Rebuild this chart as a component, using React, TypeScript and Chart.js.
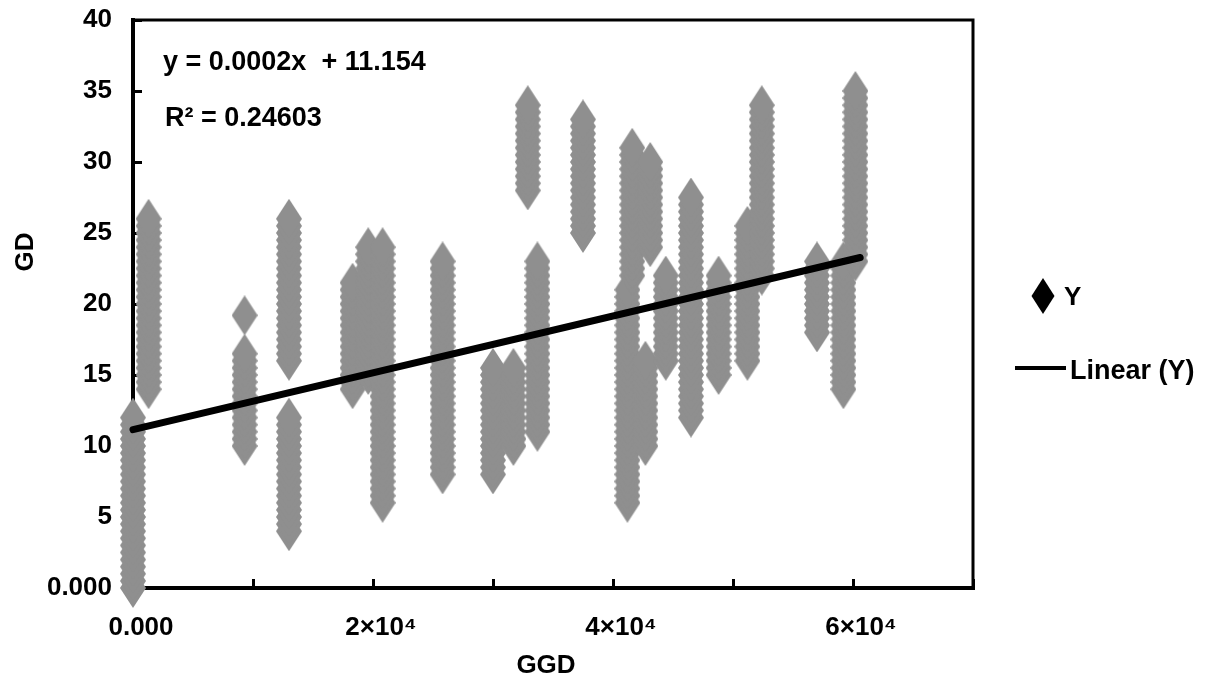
import React, { useEffect, useRef } from 'react';
import { Chart, registerables } from 'chart.js';

Chart.register(...registerables);

// ---- data ----
// GGD value of each vertical stack of points
const ggdColumns = [0, 1300, 9300, 13000, 18300, 19600, 20800, 25800, 30000, 31700, 32900, 33700, 37500, 41200, 41600, 42700, 43100, 44400, 46500, 48800, 51200, 52400, 57000, 59200, 60200];

// GD values in each stack
const gdCol0 = [0, 0.5, 1, 1.5, 2, 2.5, 3, 3.5, 4, 4.5, 5, 5.5, 6, 6.5, 7, 7.5, 8, 8.5, 9, 9.5, 10, 10.5, 11, 11.5, 12];
const gdCol1300 = [14, 14.5, 15, 15.5, 16, 16.5, 17, 17.5, 18, 18.5, 19, 19.5, 20, 20.5, 21, 21.5, 22, 22.5, 23, 23.5, 24, 24.5, 25, 25.5, 26];
const gdCol9300 = [10, 10.5, 11, 11.5, 12, 12.5, 13, 13.5, 14, 14.5, 15, 15.5, 16, 16.5, 19.2];
const gdCol13000 = [4, 4.5, 5, 5.5, 6, 6.5, 7, 7.5, 8, 8.5, 9, 9.5, 10, 10.5, 11, 11.5, 12, 16, 16.5, 17, 17.5, 18, 18.5, 19, 19.5, 20, 20.5, 21, 21.5, 22, 22.5, 23, 23.5, 24, 24.5, 25, 25.5, 26];
const gdCol18300 = [14, 14.5, 15, 15.5, 16, 16.5, 17, 17.5, 18, 18.5, 19, 19.5, 20, 20.5, 21, 21.5];
const gdCol19600 = [15, 15.5, 16, 16.5, 17, 17.5, 18, 18.5, 19, 19.5, 20, 20.5, 21, 21.5, 22, 22.5, 23, 23.5, 24];
const gdCol20800 = [6, 6.5, 7, 7.5, 8, 8.5, 9, 9.5, 10, 10.5, 11, 11.5, 12, 12.5, 13, 13.5, 14, 14.5, 15, 15.5, 16, 16.5, 17, 17.5, 18, 18.5, 19, 19.5, 20, 20.5, 21, 21.5, 22, 22.5, 23, 23.5, 24];
const gdCol25800 = [8, 8.5, 9, 9.5, 10, 10.5, 11, 11.5, 12, 12.5, 13, 13.5, 14, 14.5, 15, 15.5, 16, 16.5, 17, 17.5, 18, 18.5, 19, 19.5, 20, 20.5, 21, 21.5, 22, 22.5, 23];
const gdCol30000 = [8, 8.5, 9, 9.5, 10, 10.5, 11, 11.5, 12, 12.5, 13, 13.5, 14, 14.5, 15, 15.5];
const gdCol31700 = [10, 10.5, 11, 11.5, 12, 12.5, 13, 13.5, 14, 14.5, 15, 15.5];
const gdCol32900 = [28, 28.5, 29, 29.5, 30, 30.5, 31, 31.5, 32, 32.5, 33, 33.5, 34];
const gdCol33700 = [11, 11.5, 12, 12.5, 13, 13.5, 14, 14.5, 15, 15.5, 16, 16.5, 17, 17.5, 18, 18.5, 19, 19.5, 20, 20.5, 21, 21.5, 22, 22.5, 23];
const gdCol37500 = [25, 25.5, 26, 26.5, 27, 27.5, 28, 28.5, 29, 29.5, 30, 30.5, 31, 31.5, 32, 32.5, 33];
const gdCol41200 = [6, 6.5, 7, 7.5, 8, 8.5, 9, 9.5, 10, 10.5, 11, 11.5, 12, 12.5, 13, 13.5, 14, 14.5, 15, 15.5, 16, 16.5, 17, 17.5, 18, 18.5, 19, 19.5, 20, 20.5, 21];
const gdCol41600 = [22, 22.5, 23, 23.5, 24, 24.5, 25, 25.5, 26, 26.5, 27, 27.5, 28, 28.5, 29, 29.5, 30, 30.5, 31];
const gdCol42700 = [10, 10.5, 11, 11.5, 12, 12.5, 13, 13.5, 14, 14.5, 15, 15.5, 16];
const gdCol43100 = [24, 24.5, 25, 25.5, 26, 26.5, 27, 27.5, 28, 28.5, 29, 29.5, 30];
const gdCol44400 = [16, 16.5, 17, 17.5, 18, 18.5, 19, 19.5, 20, 20.5, 21, 21.5, 22];
const gdCol46500 = [12, 12.5, 13, 13.5, 14, 14.5, 15, 15.5, 16, 16.5, 17, 17.5, 18, 18.5, 19, 19.5, 20, 20.5, 21, 21.5, 22, 22.5, 23, 23.5, 24, 24.5, 25, 25.5, 26, 26.5, 27, 27.5];
const gdCol48800 = [15, 15.5, 16, 16.5, 17, 17.5, 18, 18.5, 19, 19.5, 20, 20.5, 21, 21.5, 22];
const gdCol51200 = [16, 16.5, 17, 17.5, 18, 18.5, 19, 19.5, 20, 20.5, 21, 21.5, 22, 22.5, 23, 23.5, 24, 24.5, 25, 25.5];
const gdCol52400 = [22, 22.5, 23, 23.5, 24, 24.5, 25, 25.5, 26, 26.5, 27, 27.5, 28, 28.5, 29, 29.5, 30, 30.5, 31, 31.5, 32, 32.5, 33, 33.5, 34];
const gdCol57000 = [18, 18.5, 19, 19.5, 20, 20.5, 21, 21.5, 22, 22.5, 23];
const gdCol59200 = [14, 14.5, 15, 15.5, 16, 16.5, 17, 17.5, 18, 18.5, 19, 19.5, 20, 20.5, 21, 21.5, 22, 22.5, 23];
const gdCol60200 = [23, 23.5, 24, 24.5, 25, 25.5, 26, 26.5, 27, 27.5, 28, 28.5, 29, 29.5, 30, 30.5, 31, 31.5, 32, 32.5, 33, 33.5, 34, 34.5, 35];

const gdColumns = [gdCol0, gdCol1300, gdCol9300, gdCol13000, gdCol18300, gdCol19600, gdCol20800, gdCol25800, gdCol30000, gdCol31700, gdCol32900, gdCol33700, gdCol37500, gdCol41200, gdCol41600, gdCol42700, gdCol43100, gdCol44400, gdCol46500, gdCol48800, gdCol51200, gdCol52400, gdCol57000, gdCol59200, gdCol60200];

// linear trend line end points: y = 0.0002x + 11.154
const trendX = [0, 60600];
const trendY = [11.154, 23.274];

// tick labels
const xTickValues = [0, 20000, 40000, 60000];
const xTickLabels = ['0.000', '2×10⁴', '4×10⁴', '6×10⁴'];
const yTickValues = [0, 5, 10, 15, 20, 25, 30, 35, 40];
const yTickLabels = ['0.000', '5', '10', '15', '20', '25', '30', '35', '40'];

const equationText = 'y = 0.0002x  + 11.154';
const r2Text = 'R² = 0.24603';
const xTitle = 'GGD';
const yTitle = 'GD';
const legendLabels = ['Y', 'Linear (Y)'];

const FONT = '"Liberation Sans", Arial, sans-serif';
const POINT_GRAY = '#8f8f8f';

function makeDiamond(w: number, h: number, color: string): HTMLCanvasElement {
  const c = document.createElement('canvas');
  c.width = w;
  c.height = h;
  const g = c.getContext('2d')!;
  g.fillStyle = color;
  g.beginPath();
  g.moveTo(w / 2, 0);
  g.lineTo(w, h / 2);
  g.lineTo(w / 2, h);
  g.lineTo(0, h / 2);
  g.closePath();
  g.fill();
  return c;
}

const decorPlugin = {
  id: 'decor',
  afterDraw(chart: any) {
    const { ctx, chartArea } = chart;
    const { left, right, top, bottom } = chartArea;
    ctx.save();
    // top and right frame
    ctx.strokeStyle = '#000';
    ctx.lineWidth = 3;
    ctx.beginPath();
    ctx.moveTo(left - 2, top);
    ctx.lineTo(right, top);
    ctx.lineTo(right, bottom + 2);
    ctx.stroke();

    ctx.fillStyle = '#000';
    // equation
    ctx.font = `bold 27px ${FONT}`;
    ctx.textAlign = 'left';
    ctx.textBaseline = 'alphabetic';
    ctx.fillText(equationText, left + 30, top + 50);
    ctx.fillText(r2Text, left + 32, top + 106);

    // axis titles
    ctx.font = `bold 26px ${FONT}`;
    ctx.textAlign = 'center';
    ctx.fillText(xTitle, 546, 673);
    ctx.save();
    ctx.translate(33, 252);
    ctx.rotate(-Math.PI / 2);
    ctx.fillText(yTitle, 0, 0);
    ctx.restore();

    // legend
    const lx = right + 70;
    ctx.fillStyle = '#000';
    ctx.beginPath();
    ctx.moveTo(lx, 278);
    ctx.lineTo(lx + 11.5, 296);
    ctx.lineTo(lx, 314);
    ctx.lineTo(lx - 11.5, 296);
    ctx.closePath();
    ctx.fill();
    ctx.font = `bold 26px ${FONT}`;
    ctx.textAlign = 'left';
    ctx.fillText(legendLabels[0], lx + 21, 305);

    ctx.strokeStyle = '#000';
    ctx.lineWidth = 4;
    ctx.beginPath();
    ctx.moveTo(right + 42, 368);
    ctx.lineTo(right + 93, 368);
    ctx.stroke();
    ctx.font = `bold 27px ${FONT}`;
    ctx.fillText(legendLabels[1], right + 97, 379);
    ctx.restore();
  },
};

export default function App() {
  const ref = useRef<HTMLCanvasElement>(null);

  useEffect(() => {
    const diamond = makeDiamond(26, 40, POINT_GRAY);
    const points = ggdColumns.flatMap((x, i) => gdColumns[i].map((y) => ({ x, y })));
    const trend = trendX.map((x, i) => ({ x, y: trendY[i] }));
    const tickFont = { family: FONT, size: 26, weight: 'bold' as const };

    const chart = new Chart(ref.current!, {
      type: 'scatter',
      data: {
        datasets: [
          {
            label: legendLabels[1],
            data: trend,
            showLine: true,
            borderColor: '#000',
            backgroundColor: '#000',
            borderWidth: 7,
            borderCapStyle: 'round',
            pointRadius: 0,
            order: 0,
            clip: false,
          } as any,
          {
            label: legendLabels[0],
            data: points,
            pointStyle: diamond,
            pointRadius: 13,
            backgroundColor: POINT_GRAY,
            borderWidth: 0,
            order: 1,
            clip: false,
          } as any,
        ],
      },
      options: {
        animation: false,
        responsive: true,
        maintainAspectRatio: false,
        events: [],
        layout: { padding: { left: 0, top: 20, right: 244, bottom: 0 } },
        plugins: {
          legend: { display: false },
          tooltip: { enabled: false },
        },
        scales: {
          x: {
            type: 'linear',
            min: 0,
            max: 70000,
            afterFit: (s: any) => {
              s.height = 91;
              s.paddingLeft = 0;
              s.paddingRight = 0;
              s.paddingTop = 0;
              s.paddingBottom = 0;
            },
            ticks: {
              stepSize: 10000,
              autoSkip: false,
              maxRotation: 0,
              minRotation: 0,
              padding: 33,
              labelOffset: 8,
              color: '#000',
              font: tickFont,
              callback: (v: any) => {
                const i = xTickValues.indexOf(Number(v));
                return i >= 0 ? xTickLabels[i] : '';
              },
            },
            grid: { drawOnChartArea: false, drawTicks: true, tickLength: -9, tickWidth: 3, tickColor: '#000' },
            border: { display: true, color: '#000', width: 4 },
          },
          y: {
            type: 'linear',
            min: 0,
            max: 40,
            afterFit: (s: any) => {
              s.width = 133;
              s.paddingLeft = 0;
              s.paddingRight = 0;
              s.paddingTop = 0;
              s.paddingBottom = 0;
            },
            ticks: {
              stepSize: 5,
              autoSkip: false,
              padding: 30,
              color: '#000',
              font: tickFont,
              callback: (v: any) => {
                const i = yTickValues.indexOf(Number(v));
                return i >= 0 ? yTickLabels[i] : '';
              },
            },
            grid: { drawOnChartArea: false, drawTicks: true, tickLength: -9, tickWidth: 3, tickColor: '#000' },
            border: { display: true, color: '#000', width: 4 },
          },
        },
      } as any,
      plugins: [decorPlugin],
    });
    return () => chart.destroy();
  }, []);

  return (
    <div style={{ position: 'fixed', left: 0, top: 0, width: 1217, height: 679, background: '#fff' }}>
      <canvas ref={ref} />
    </div>
  );
}
